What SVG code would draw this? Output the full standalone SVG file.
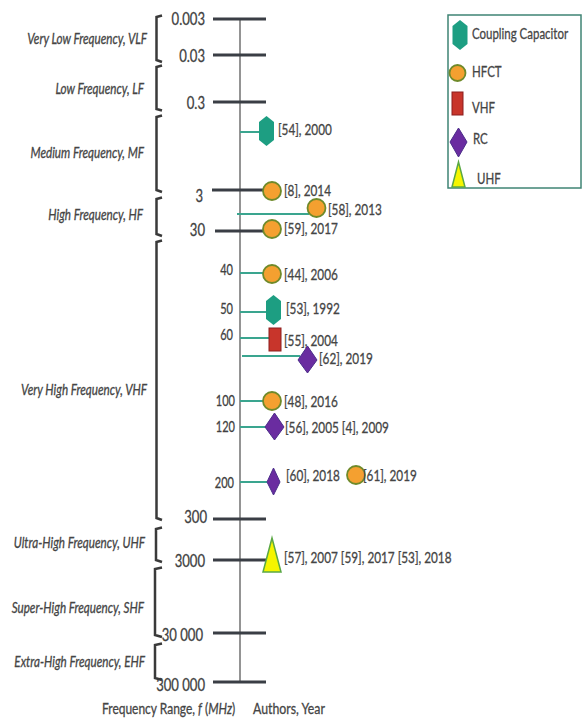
<svg xmlns="http://www.w3.org/2000/svg" width="583" height="719" viewBox="0 0 583 719">
<style>
.t{font-family:Lato,"Liberation Sans",sans-serif;fill:#454545;stroke:#454545;stroke-width:0.3}
.band{font-size:15px;font-style:italic}
.big{font-size:17px;fill:#404040}
.sm{font-size:14.5px;fill:#404040}
.lab{font-size:15.5px}
.leg{font-size:15.5px}
.ax{font-size:16px}
.tick{stroke:#3a3e45;stroke-width:3}
.axis{stroke:#707070;stroke-width:1.5}
.br{fill:none;stroke:#3a3a3a;stroke-width:2.5}
.conn{stroke:#3aa58f;stroke-width:2}
.hex{fill:#1d9e82}
.cir{fill:#f4a030;stroke:#6f8a2a;stroke-width:1.8}
.rct{fill:#c8352b;stroke:#8b1f1f;stroke-width:1}
.dia{fill:#6a2ca0;stroke:#4b2d8a;stroke-width:1}
.tri{fill:#f5f500;stroke:#5aa845;stroke-width:1.5}
</style>
<defs>
<polygon id="hx" points="0,-15 7.5,-9 7.5,9 0,15 -7.5,9 -7.5,-9"/>
</defs>
<rect width="583" height="719" fill="#fff"/>

<g id="axis">
<line class="axis" x1="240" y1="19" x2="240" y2="682"/>
<line class="tick" x1="213" y1="19" x2="266" y2="19"/>
<line class="tick" x1="213" y1="55" x2="266" y2="55"/>
<line class="tick" x1="213" y1="102" x2="266" y2="102"/>
<line class="tick" x1="212" y1="190" x2="266" y2="190"/>
<line class="tick" x1="215" y1="231" x2="266" y2="231"/>
<line class="tick" x1="213" y1="519" x2="266" y2="519"/>
<line class="tick" x1="213" y1="560" x2="266" y2="560"/>
<line class="tick" x1="213" y1="633" x2="266" y2="633"/>
<line class="tick" x1="213" y1="682" x2="266" y2="682"/>
<g class="t big" text-anchor="end">
<text transform="translate(205,25) scale(.77,1)">0.003</text>
<text transform="translate(205,62) scale(.77,1)">0.03</text>
<text transform="translate(205,109) scale(.77,1)">0.3</text>
<text transform="translate(203,202) scale(.77,1)">3</text>
<text transform="translate(205,236) scale(.77,1)">30</text>
<text transform="translate(207,523) scale(.77,1)">300</text>
<text transform="translate(205,567) scale(.77,1)">3000</text>
<text transform="translate(203,641) scale(.77,1)">30 000</text>
<text transform="translate(205,691) scale(.77,1)">300 000</text>
</g>
<g class="t sm" text-anchor="end">
<text transform="translate(233,275) scale(.76,1)">40</text>
<text transform="translate(233,314) scale(.76,1)">50</text>
<text transform="translate(233,340) scale(.76,1)">60</text>
<text transform="translate(235,406) scale(.76,1)">100</text>
<text transform="translate(235,432) scale(.76,1)">120</text>
<text transform="translate(234,488) scale(.76,1)">200</text>
</g>
<text class="t ax" transform="translate(102,714) scale(.75,1)">Frequency Range, <tspan font-style="italic">f</tspan> (<tspan font-style="italic">MHz</tspan>)</text>
<text class="t ax" transform="translate(253,714) scale(.77,1)">Authors, Year</text>
</g>

<g id="bands">
<path class="br" d="M162,15.5 L156.5,17 V60 L162,62"/>
<path class="br" d="M162,65.5 L156.5,67 V109 L162,110.5"/>
<path class="br" d="M162,115.5 L156.5,117 V190 L162,192"/>
<path class="br" d="M162,197.5 L156.5,199 V234 L162,236"/>
<path class="br" d="M162,240.5 L156.5,242 V518 L162,520"/>
<path class="br" d="M162,527.5 L156,529 V560 L162,562"/>
<path class="br" d="M162,567.5 L155,569 V635 L162,637"/>
<path class="br" d="M162,643.5 L155,645 V678 L162,680"/>
<g class="t band" text-anchor="end">
<text transform="translate(147,44) scale(.78,1)">Very Low Frequency, VLF</text>
<text transform="translate(144,94) scale(.78,1)">Low Frequency, LF</text>
<text transform="translate(144,158) scale(.78,1)">Medium Frequency, MF</text>
<text transform="translate(143,220) scale(.78,1)">High Frequency, HF</text>
<text transform="translate(147,395) scale(.78,1)">Very High Frequency, VHF</text>
<text transform="translate(145,548) scale(.78,1)">Ultra-High Frequency, UHF</text>
<text transform="translate(144,613) scale(.78,1)">Super-High Frequency, SHF</text>
<text transform="translate(145,667) scale(.78,1)">Extra-High Frequency, EHF</text>
</g>
</g>

<g id="connectors">
<line class="conn" x1="240" y1="132" x2="260" y2="132"/>
<line class="conn" x1="237" y1="214" x2="309" y2="214"/>
<line class="conn" x1="240" y1="273" x2="264" y2="273"/>
<line class="conn" x1="240" y1="312" x2="266" y2="312"/>
<line class="conn" x1="240" y1="338" x2="269" y2="338"/>
<line class="conn" x1="242" y1="356" x2="300" y2="356"/>
<line class="conn" x1="240" y1="401" x2="264" y2="401"/>
<line class="conn" x1="240" y1="427" x2="266" y2="427"/>
<line class="conn" x1="240" y1="482" x2="267" y2="482"/>
</g>

<g id="n54"><use href="#hx" class="hex" x="266.5" y="131"/><text class="t lab" transform="translate(278,135) scale(.76,1)">[54], 2000</text></g>
<g id="n8"><circle class="cir" cx="272" cy="191" r="9"/><text class="t lab" transform="translate(284,196) scale(.76,1)">[8], 2014</text></g>
<g id="n58"><circle class="cir" cx="316.5" cy="208" r="9"/><text class="t lab" transform="translate(328,215) scale(.76,1)">[58], 2013</text></g>
<g id="n59"><circle class="cir" cx="272" cy="229" r="9"/><text class="t lab" transform="translate(284,234) scale(.76,1)">[59], 2017</text></g>
<g id="n44"><circle class="cir" cx="272" cy="274" r="9"/><text class="t lab" transform="translate(284,280) scale(.76,1)">[44], 2006</text></g>
<g id="n53"><use href="#hx" class="hex" x="273.5" y="310"/><text class="t lab" transform="translate(286,314) scale(.76,1)">[53], 1992</text></g>
<g id="n55"><rect class="rct" x="269" y="328" width="12" height="23"/><text class="t lab" transform="translate(284,346) scale(.76,1)">[55], 2004</text></g>
<g id="n62"><polygon class="dia" points="307.5,346 317,360 307.5,373 298,360"/><text class="t lab" transform="translate(319,364) scale(.76,1)">[62], 2019</text></g>
<g id="n48"><circle class="cir" cx="272" cy="401" r="9"/><text class="t lab" transform="translate(284,407) scale(.76,1)">[48], 2016</text></g>
<g id="n56"><polygon class="dia" points="274.5,413 284,427 274.5,440 265,427"/><text class="t lab" transform="translate(285,433) scale(.76,1)">[56], 2005 [4], 2009</text></g>
<g id="n60"><polygon class="dia" points="273.5,468 280,482 273.5,495 267,482"/><text class="t lab" transform="translate(286,481) scale(.76,1)">[60], 2018</text></g>
<g id="n61"><circle class="cir" cx="356" cy="475" r="9"/><text class="t lab" transform="translate(363,481) scale(.76,1)">[61], 2019</text></g>
<g id="n57"><polygon class="tri" points="272,538 281,572 263,572"/><text class="t lab" transform="translate(284,563) scale(.76,1)">[57], 2007 [59], 2017  [53], 2018</text></g>

<g id="legend">
<rect x="448" y="15" width="133" height="173" fill="none" stroke="#3f8474" stroke-width="1.5"/>
<use href="#hx" class="hex" x="460" y="35"/>
<text class="t leg" transform="translate(472,39) scale(.74,1)">Coupling Capacitor</text>
<circle class="cir" cx="457.5" cy="73" r="8"/>
<text class="t leg" transform="translate(472,77) scale(.74,1)">HFCT</text>
<rect class="rct" x="452" y="92" width="11" height="23"/>
<text class="t leg" transform="translate(472,113) scale(.74,1)">VHF</text>
<polygon class="dia" points="458.5,128 467,142 458.5,157 450,142"/>
<text class="t leg" transform="translate(473,144) scale(.74,1)">RC</text>
<polygon class="tri" points="458.5,162 465,187 452,187"/>
<text class="t leg" transform="translate(477,184) scale(.74,1)">UHF</text>
</g>
</svg>
